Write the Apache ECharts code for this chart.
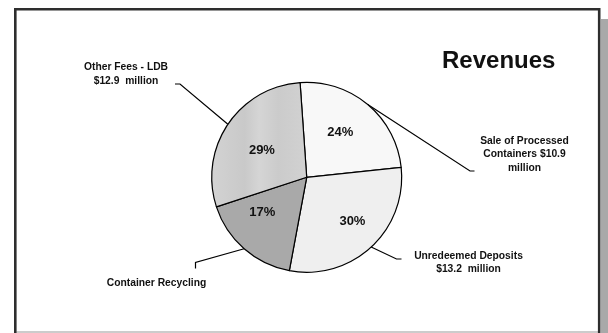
<!DOCTYPE html>
<html>
<head>
<meta charset="utf-8">
<title>Revenues</title>
<script src="https://cdn.jsdelivr.net/npm/echarts@6/dist/echarts.min.js"></script>
<style>
  html, body { margin: 0; padding: 0; background: #ffffff; }
  #chart { width: 608px; height: 333px; }
</style>
</head>
<body>
<div id="chart"></div>
<script>
// Revenue sources, $ million
const categories = [
  'Sale of Processed Containers',
  'Unredeemed Deposits',
  'Container Recycling',
  'Other Fees - LDB'
];
const revenues = [10.9, 13.2, 7.6, 12.9];
// Callout wording per slice; {v} is replaced by the slice value
const calloutTemplates = [
  'Sale of Processed\nContainers ${v}\nmillion',
  'Unredeemed Deposits\n${v}  million',
  'Container Recycling',
  'Other Fees - LDB\n${v}  million'
];

// Styling / layout
const sliceColors = [
  '#f8f8f8',
  '#efefef',
  '#a9a9a9',
  {
    type: 'linear', x: 0, y: 0, x2: 1, y2: 0,
    colorStops: [
      { offset: 0.00, color: '#d3d3d3' },
      { offset: 0.35, color: '#c9c9c9' },
      { offset: 0.50, color: '#d5d5d5' },
      { offset: 0.70, color: '#cbcbcb' },
      { offset: 1.00, color: '#d2d2d2' }
    ]
  }
];
// callout anchor (centre x, top y) and leader elbow / end points
const callouts = [
  { x: 524.5, y: 134.5, elbow: [470, 171], end: [474.5, 171] },
  { x: 468.5, y: 249.5, elbow: [396.5, 259], end: [401.5, 259] },
  { x: 156.5, y: 277.0, elbow: [195.5, 262.5], end: [195.5, 268.5] },
  { x: 126.0, y: 61.0, elbow: [180, 84], end: [175, 84] }
];
// nudges for the percentage labels inside the slices
const percentNudge = [[-5, 1], [5, 0], [-5, -10], [5, 7]];
const PIE_CENTER = [306.7, 177.3];
const PIE_R = 95;
const FONT = '"Liberation Sans", Arial, Helvetica, sans-serif';

const chart = echarts.init(document.getElementById('chart'), null, { renderer: 'canvas' });

const pieData = categories.map((name, i) => ({
  name: name,
  value: revenues[i],
  itemStyle: { color: sliceColors[i] }
}));

function edgePoint(idx) {
  // point on the rim at the slice's middle angle
  const layout = chart.getModel().getSeriesByIndex(0).getData().getItemLayout(idx);
  const mid = (layout.startAngle + layout.endAngle) / 2;
  return [layout.cx + layout.r * Math.cos(mid), layout.cy + layout.r * Math.sin(mid)];
}

const option = {
  backgroundColor: '#ffffff',
  animation: false,
  title: {
    text: 'Revenues',
    left: 442,
    top: 49,
    padding: 0,
    textStyle: { fontFamily: FONT, fontWeight: 'bold', fontSize: 24, color: '#111111' }
  },
  graphic: [
    { type: 'rect', silent: true, z: -1,
      shape: { x: 601, y: 19, width: 7, height: 314 },
      style: { fill: '#a9a9a9' } },
    { type: 'rect', silent: true, z: -1,
      shape: { x: 16.5, y: 331, width: 581.5, height: 2 },
      style: { fill: '#cccccc' } },
    { type: 'rect', silent: true, z: 10,
      shape: { x: 15.3, y: 9.2, width: 583.9, height: 340 },
      style: { fill: null, stroke: '#2e2e2e', lineWidth: 2.6 } }
  ],
  series: [
    {
      type: 'pie',
      center: PIE_CENTER,
      radius: [0, PIE_R],
      startAngle: 94,
      clockwise: true,
      silent: true,
      avoidLabelOverlap: false,
      data: pieData,
      itemStyle: { borderColor: '#000000', borderWidth: 1.2 },
      label: {
        show: true,
        position: 'outside',
        formatter: p => calloutTemplates[p.dataIndex].replace('{v}', p.value.toFixed(1)),
        fontFamily: FONT,
        fontWeight: 'bold',
        fontSize: 10.3,
        lineHeight: 13.3,
        color: '#111111',
        align: 'center'
      },
      labelLine: {
        show: true,
        length: 20,
        length2: 10,
        smooth: false,
        lineStyle: { color: '#000000', width: 1.2 }
      },
      labelLayout: params => {
        const c = callouts[params.dataIndex];
        const start = (params.labelLinePoints && params.labelLinePoints[0])
          ? params.labelLinePoints[0]
          : edgePoint(params.dataIndex);
        return {
          x: c.x,
          y: c.y,
          align: 'center',
          verticalAlign: 'top',
          labelLinePoints: [start, c.elbow, c.end]
        };
      },
      emphasis: { disabled: true }
    },
    {
      // transparent twin carrying the percentage labels inside the slices
      type: 'pie',
      center: PIE_CENTER,
      radius: [0, PIE_R * 1.2],
      startAngle: 94,
      clockwise: true,
      silent: true,
      percentPrecision: 0,
      data: categories.map((name, i) => ({ name: name, value: revenues[i] })),
      itemStyle: { color: 'rgba(0,0,0,0)', borderWidth: 0 },
      label: {
        show: true,
        position: 'inside',
        formatter: '{d}%',
        fontFamily: FONT,
        fontWeight: 'bold',
        fontSize: 13,
        color: '#111111'
      },
      labelLine: { show: false },
      labelLayout: params => ({
        dx: percentNudge[params.dataIndex][0],
        dy: percentNudge[params.dataIndex][1]
      }),
      emphasis: { disabled: true }
    }
  ]
};

chart.setOption(option);
</script>
</body>
</html>
